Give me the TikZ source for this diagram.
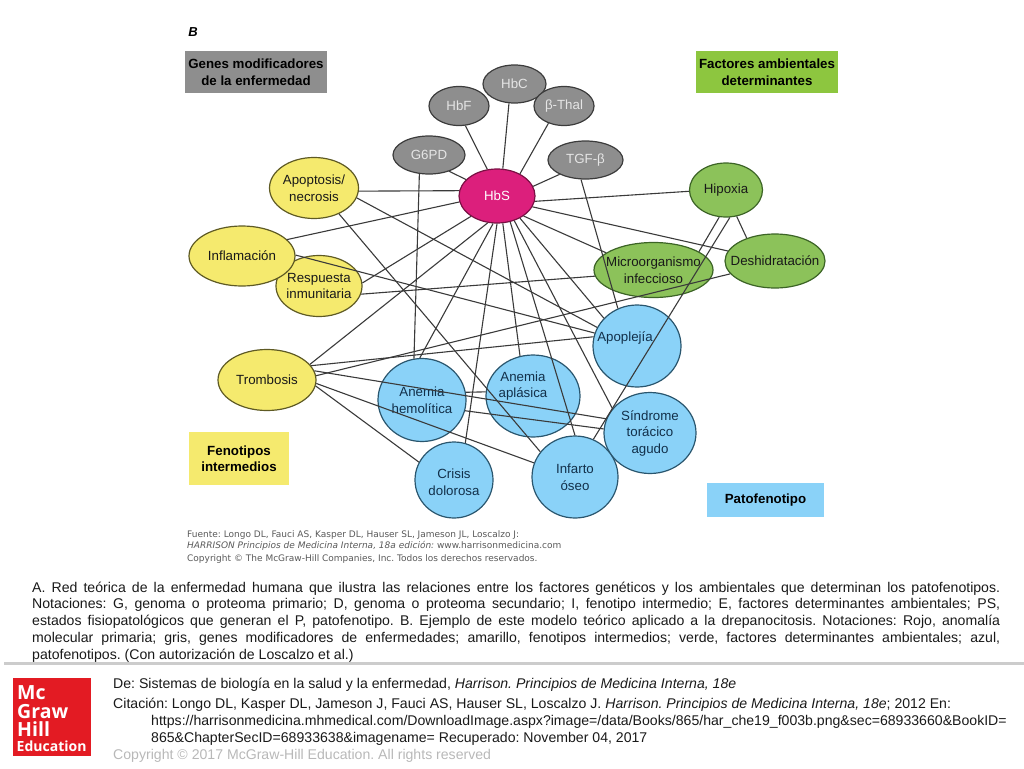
\documentclass[tikz,border=0pt]{standalone}
\usepackage{fontspec}
\setmainfont{Liberation Sans}
\newfontfamily\srcfont{DejaVu Sans}
\newfontfamily\logofont{Open Sans}
\usetikzlibrary{shapes.geometric}
\frenchspacing
\definecolor{grayfill}{HTML}{8E8E8E}
\definecolor{grayline}{HTML}{3C3C3C}
\definecolor{hubfill}{HTML}{DC1F7C}
\definecolor{hubline}{HTML}{7A1044}
\definecolor{yellowfill}{HTML}{F5EA6E}
\definecolor{yellowline}{HTML}{5E5A24}
\definecolor{greenfill}{HTML}{8CC25A}
\definecolor{greenline}{HTML}{3C6426}
\definecolor{legendgreen}{HTML}{8DC63F}
\definecolor{bluefill}{HTML}{8AD2F8}
\definecolor{blueline}{HTML}{2A566E}
\definecolor{bluelabel}{HTML}{12304A}
\definecolor{linkcolor}{HTML}{3A3A3A}
\definecolor{logored}{HTML}{E31B23}
\tikzset{
    bubble/.style={draw,ellipse,inner sep=0pt,line width=1.2pt},
    genebubble/.style={bubble,draw=grayline,fill=grayfill},
    hubbubble/.style={bubble,draw=hubline,fill=hubfill},
    yellowbubble/.style={bubble,draw=yellowline,fill=yellowfill},
    greenbubble/.style={bubble,draw=greenline,fill=greenfill},
    bluebubble/.style={bubble,draw=blueline,fill=bluefill},
    darktext/.style={align=center,inner sep=0pt,text=black!90,font=\fontsize{13.3}{16.5}\selectfont},
    bluetext/.style={darktext,text=bluelabel},
    lighttext/.style={darktext,text=black!10},
    legendbox/.style={inner sep=0pt,align=center,text=black,font=\fontsize{13.3}{16.5}\selectfont\bfseries},
    link/.style={draw=linkcolor,line width=1.1pt},
    srctext/.style={anchor=base west,inner sep=0pt,text=black!65,font=\srcfont\fontsize{9}{10}\selectfont},
    foottext/.style={anchor=base west,inner sep=0pt,text=black!90,font=\fontsize{14.1}{16}\selectfont},
    logotext/.style={anchor=base west,inner sep=0pt,text=white,font=\logofont\bfseries\fontsize{19.5}{20}\selectfont},
}
\begin{document}
\begin{tikzpicture}[x=1pt,y=-1pt]
    \useasboundingbox (0,0) rectangle (1024,768);
    %% legend boxes
    \node[font=\fontsize{13}{13}\selectfont\bfseries\itshape,inner sep=0pt] (letterB) at (193,32) {B};
    \node[legendbox,fill=grayfill,minimum width=142pt,minimum height=42pt] (legendgenes) at (256,72) {Genes modificadores\\de la enfermedad};
    \node[legendbox,fill=legendgreen,minimum width=142pt,minimum height=42pt] (legendfactores) at (767,72) {Factores ambientales\\determinantes};
    \node[legendbox,fill=yellowfill,minimum width=100pt,minimum height=53pt] (legendfenotipos) at (239,458.5) {Fenotipos\\intermedios};
    \node[legendbox,fill=bluefill,minimum width=117pt,minimum height=34pt] (legendpato) at (765.5,500) {Patofenotipo};
    %% gray bubbles
    \node[genebubble,minimum width=72pt,minimum height=38pt,label={[lighttext]center:G6PD}] (gsixpd) at (429,155) {};
    \node[genebubble,minimum width=60pt,minimum height=39pt,label={[lighttext]center:HbF}] (hbf) at (459,106) {};
    \node[genebubble,minimum width=63pt,minimum height=38pt,label={[lighttext]center:HbC}] (hbc) at (514.5,84) {};
    \node[genebubble,minimum width=60pt,minimum height=39pt,label={[lighttext]center:β-Thal}] (bthal) at (564,106) {};
    \node[genebubble,minimum width=75pt,minimum height=38pt,label={[lighttext]center:TGF-β}] (tgfb) at (585.5,160) {};
    %% hub
    \node[hubbubble,minimum width=76pt,minimum height=54pt,label={[lighttext,text=white]center:HbS}] (hbs) at (497,196) {};
    %% yellow bubbles
    \node[yellowbubble,minimum width=89pt,minimum height=61pt,label={[darktext]center:Apoptosis/\\necrosis}] (apoptosis) at (314,188) {};
    \node[yellowbubble,minimum width=86pt,minimum height=61pt,label={[darktext]center:Respuesta\\inmunitaria}] (respuesta) at (319,286) {};
    \node[yellowbubble,minimum width=106pt,minimum height=60pt,label={[darktext]center:Inflamación}] (inflamacion) at (242,256) {};
    \node[yellowbubble,minimum width=98pt,minimum height=61pt,label={[darktext]center:Trombosis}] (trombosis) at (267,380) {};
    %% green bubbles
    \node[greenbubble,minimum width=73pt,minimum height=54pt,label={[darktext]center:Hipoxia}] (hipoxia) at (726,190) {};
    \node[greenbubble,minimum width=119pt,minimum height=55pt,label={[darktext]center:Microorganismo\\infeccioso}] (micro) at (653.5,270) {};
    \node[greenbubble,minimum width=100pt,minimum height=54pt,label={[darktext]center:Deshidratación}] (deshidra) at (775,261) {};
    %% blue bubbles
    \node[bluebubble,minimum width=88pt,minimum height=82pt,label={[bluetext,xshift=-12pt,yshift=8pt]center:Apoplejía}] (apoplejia) at (637,346) {};
    \node[bluebubble,minimum width=88pt,minimum height=83pt,label={[bluetext]center:Anemia\\hemolítica}] (hemolitica) at (422,400) {};
    \node[bluebubble,minimum width=94pt,minimum height=82pt,label={[bluetext,xshift=-10pt,yshift=10pt]center:Anemia\\aplásica}] (aplasica) at (533,396) {};
    \node[bluebubble,minimum width=92pt,minimum height=81pt,label={[bluetext]center:Síndrome\\torácico\\agudo}] (sindrome) at (650,433) {};
    \node[bluebubble,minimum width=78pt,minimum height=76pt,label={[bluetext,yshift=-2pt]center:Crisis\\dolorosa}] (crisis) at (454,480) {};
    \node[bluebubble,minimum width=86pt,minimum height=82pt,label={[bluetext]center:Infarto\\óseo}] (infarto) at (575,477) {};
    %% links around the hub
    \draw[link] (hbs.152) -- (gsixpd.-39);
    \draw[link] (hbs.110) -- (hbf.-72);
    \draw[link] (hbs.78) -- (hbc.-106);
    \draw[link] (hbs.44) -- (bthal.-132);
    \draw[link] (hbs.15) -- (tgfb.-151);
    \draw[link] (hbs.-8) -- (hipoxia.182);
    \draw[link] (hbs.-17) -- (deshidra.168);
    \draw[link] (hbs.-37) -- (micro.160);
    \draw[link] (hbs.-44) -- (apoplejia.140);
    \draw[link] (hbs.-55) -- (sindrome.147);
    \draw[link] (hbs.-63) -- (infarto.90);
    \draw[link] (hbs.-78) -- (aplasica.108);
    \draw[link] (hbs.-90) -- (crisis.73);
    \draw[link] (hbs.-98) -- (hemolitica.93);
    \draw[link] (hbs.-109) -- (trombosis.20);
    \draw[link] (hbs.-142) -- (respuesta.4);
    \draw[link] (hbs.172) -- (apoptosis.-4);
    \draw[link] (hbs.189) -- (inflamacion.20);
    %% links from the yellow bubbles
    \draw[link] (apoptosis.-13) -- (apoplejia.155);
    \draw[link] (apoptosis.-46) -- (infarto.144);
    \draw[link] (inflamacion.1) -- (apoplejia.163);
    \draw[link] (respuesta.-11) -- (micro.186);
    \draw[link] (trombosis.18) -- (apoplejia.168);
    \draw[link] (trombosis.5) -- (deshidra.196);
    \draw[link] (trombosis.11) -- (sindrome.162);
    \draw[link] (trombosis.-4) -- (infarto.161);
    \draw[link] (trombosis.-7) -- (crisis.153);
    %% links from the gray bubbles
    \draw[link] (gsixpd.-117) -- (hemolitica.101);
    \draw[link] (tgfb.-103) -- (apoplejia.117);
    %% links from the green bubbles
    \draw[link] (hipoxia.-104) -- (micro.22);
    \draw[link] (hipoxia.-82) -- (infarto.64);
    \draw[link] (hipoxia.-68) -- (deshidra.141);
    %% links between the blue bubbles
    \draw[link] (hemolitica.10) -- (aplasica.175);
    \draw[link] (hemolitica.-14) -- (sindrome.175);
    %% source lines
    \node[srctext] (srcone) at (187,537) {Fuente: Longo DL, Fauci AS, Kasper DL, Hauser SL, Jameson JL, Loscalzo J:};
    \node[srctext] (srctwo) at (187,548) {\itshape HARRISON Principios de Medicina Interna, 18a edición: \upshape www.harrisonmedicina.com};
    \node[srctext] (srcthree) at (187,561) {Copyright © The McGraw-Hill Companies, Inc. Todos los derechos reservados.};
    %% caption
    \node[anchor=north west,inner sep=0pt,text width=968pt,align=justify,text=black!90,font=\fontsize{14.1}{16.9}\selectfont] (caption) at (32,581.5) {A. Red teórica de la enfermedad humana que ilustra las relaciones entre los factores genéticos y los ambientales que determinan los patofenotipos.\linebreak
    Notaciones: G, genoma o proteoma primario; D, genoma o proteoma secundario; I, fenotipo intermedio; E, factores determinantes ambientales; PS,\linebreak
    estados fisiopatológicos que generan el P, patofenotipo. B. Ejemplo de este modelo teórico aplicado a la drepanocitosis. Notaciones: Rojo, anomalía\linebreak
    molecular primaria; gris, genes modificadores de enfermedades; amarillo, fenotipos intermedios; verde, factores determinantes ambientales; azul,\linebreak
    patofenotipos. (Con autorización de Loscalzo et al.)};
    %% footer
    \fill[black!20] (4,661.5) rectangle (1024,664.5);
    \fill[logored] (13,678) rectangle (91,756);
    \node[logotext] (logomc) at (17,699.5) {Mc};
    \node[logotext] (logograw) at (17,718) {Graw};
    \node[logotext] (logohill) at (17,736.5) {Hill};
    \node[logotext,font=\logofont\bfseries\fontsize{14}{15}\selectfont] (logoedu) at (16.5,751.5) {Education};
    \node[foottext] (footde) at (113,688) {De: Sistemas de biología en la salud y la enfermedad, \itshape Harrison. Principios de Medicina Interna, 18e};
    \node[foottext] (footcita) at (113,708) {Citación: Longo DL, Kasper DL, Jameson J, Fauci AS, Hauser SL, Loscalzo J. \itshape Harrison. Principios de Medicina Interna, 18e\upshape; 2012 En:};
    \node[foottext] (footurl) at (151,725) {https://harrisonmedicina.mhmedical.com/DownloadImage.aspx?image=/data/Books/865/har\_che19\_f003b.png\&sec=68933660\&BookID=};
    \node[foottext] (footid) at (151,742) {865\&ChapterSecID=68933638\&imagename= Recuperado: November 04, 2017};
    \node[foottext,text=black!28] (footcopy) at (113,759) {Copyright © 2017 McGraw-Hill Education. All rights reserved};
\end{tikzpicture}
\end{document}
